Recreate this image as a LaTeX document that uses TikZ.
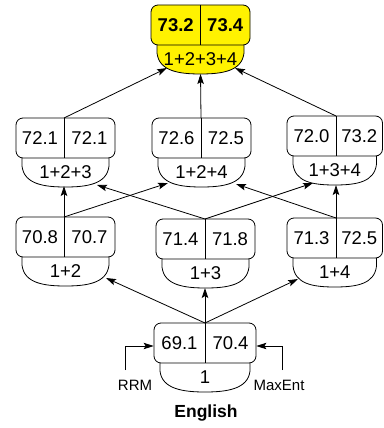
\documentclass[tikz,border=0pt]{standalone}
\usepackage{fontspec}
\setmainfont{Liberation Sans}
\usetikzlibrary{arrows.meta}
\tikzset{
  thinline/.style={line width=0.8pt},
  cellbox/.style={draw, thinline, rounded corners=7pt, inner sep=0pt},
  bowlshape/.style={draw, thinline},
  numtxt/.style={font=\fontsize{18.5}{22}\selectfont, inner sep=0pt},
  smalltxt/.style={font=\fontsize{15}{18}\selectfont, inner sep=0pt},
  arr/.style={thinline, -{Stealth[length=10pt,width=6.5pt,inset=2pt]}},
}
\newcommand\cellfill{white}
\newcommand\cellfont{}
% #1 id, #2 left, #3 divider, #4 right, #5 top, #6 a, #7 b, #8 label
\newcommand\cellnode[8]{%
  \pgfmathsetmacro\cC{(#2+#4)/2}%
  \pgfmathsetmacro\cW{#4-#2}%
  \pgfmathsetmacro\cA{(#2+#3)/2}%
  \pgfmathsetmacro\cB{(#3+#4)/2}%
  \draw[bowlshape, fill=\cellfill] (#2+6,#5+40) -- (#2+6,#5+48)
     .. controls (#2+8,#5+66) and (\cC-22,#5+69) .. (\cC,#5+69)
     .. controls (\cC+22,#5+69) and (#4-8,#5+66) .. (#4-6,#5+48) -- (#4-6,#5+40);
  \node[cellbox, fill=\cellfill, minimum width=\cW pt, minimum height=40pt] (#1) at (\cC,#5+20) {};
  \coordinate (#1-top) at (#3,#5);
  \draw[thinline] (#1-top) -- (#3,#5+40);
  \node[numtxt] (#1-a) at (\cA,#5+20) {\cellfont #6};
  \node[numtxt] (#1-b) at (\cB,#5+20) {\cellfont #7};
  \node[numtxt] (#1-lab) at (\cC,#5+54) {#8};
}
\begin{document}
\begin{tikzpicture}[x=1pt,y=-1pt]
\useasboundingbox (0,0) rectangle (383,428);
% top node
\renewcommand\cellfill{yellow}\renewcommand\cellfont{\bfseries}
\cellnode{top}{151}{200.5}{250}{5}{73.2}{73.4}{1+2+3+4}
\renewcommand\cellfill{white}\renewcommand\cellfont{}
% row 2
\cellnode{n123}{16}{64}{115}{118}{72.1}{72.1}{1+2+3}
\cellnode{n124}{152}{201}{251}{118}{72.6}{72.5}{1+2+4}
\cellnode{n134}{287}{336}{382.5}{116}{72.0}{73.2}{1+3+4}
% row 3
\cellnode{n12}{16}{64}{115}{217}{70.8}{70.7}{1+2}
\cellnode{n13}{156}{205}{255}{219}{71.4}{71.8}{1+3}
\cellnode{n14}{287}{336}{382.5}{218}{71.3}{72.5}{1+4}
% bottom
\cellnode{n1}{154}{205}{256}{323}{69.1}{70.4}{1}
% arrow tips
\coordinate (n12-r) at (106,278);
\coordinate (n13-bot) at (205,288);
\coordinate (n14-l) at (298,279);
\coordinate (n123-bot) at (64,186);
\coordinate (n124-l) at (168,183);
\coordinate (n123-r) at (97,185);
\coordinate (n134-l) at (313,183);
\coordinate (n134-bot) at (336,185);
\coordinate (n124-r) at (236,184);
\coordinate (top-l) at (167,68);
\coordinate (top-bot) at (200.5,74);
\coordinate (top-r) at (235,68);
% arrows
\draw[arr] (n1-top) -- (n12-r);
\draw[arr] (n1-top) -- (n13-bot);
\draw[arr] (n1-top) -- (n14-l);
\draw[arr] (n12-top) -- (n123-bot);
\draw[arr] (n12-top) -- (n124-l);
\draw[arr] (n13-top) -- (n123-r);
\draw[arr] (n13-top) -- (n134-l);
\draw[arr] (n14-top) -- (n134-bot);
\draw[arr] (n14-top) -- (n124-r);
\draw[arr] (n123-top) -- (top-l);
\draw[arr] (n124-top) -- (top-bot);
\draw[arr] (n134-top) -- (top-r);
% inputs
\node[smalltxt] (rrm) at (135,385) {RRM};
\node[smalltxt] (maxent) at (279,385) {MaxEnt};
\coordinate (rrm-st) at (125,370);
\coordinate (maxent-st) at (282,370);
\draw[arr] (rrm-st) |- ([yshift=-3pt]n1.west);
\draw[arr] (maxent-st) |- ([yshift=-3pt]n1.east);
% caption
\node[font=\fontsize{17.5}{20}\selectfont\bfseries, inner sep=0pt] (eng) at (206,413) {English};
\end{tikzpicture}
\end{document}
